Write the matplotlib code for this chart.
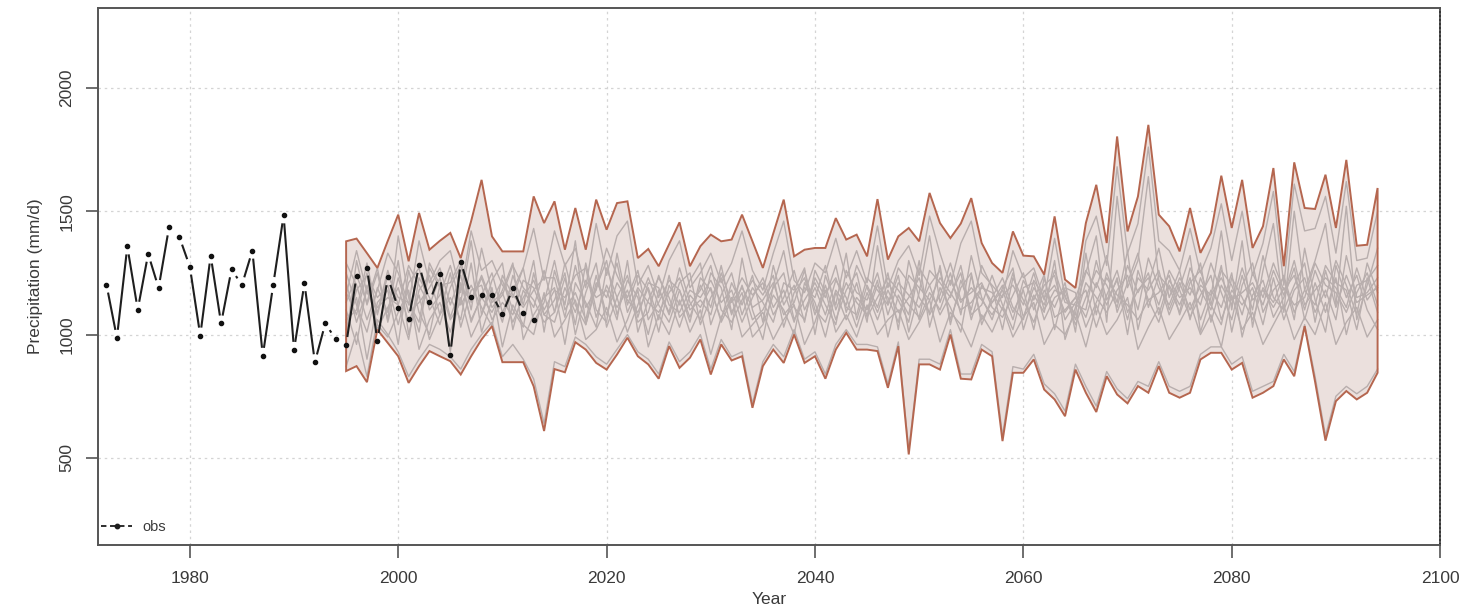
import numpy as np
import matplotlib
matplotlib.use("Agg")
import matplotlib.pyplot as plt
from matplotlib.lines import Line2D

plt.rcParams['font.family'] = ['Liberation Sans', 'DejaVu Sans']

# observed annual precipitation
obs_years = list(range(1972, 2014))
obs_vals = [1202, 987, 1357, 1101, 1327, 1189, 1434, 1395, 1275, 996,
            1320, 1045, 1264, 1201, 1340, 914, 1201, 1483, 938, 1208,
            888, 1045, 981, 958, 1239, 1271, 974, 1232, 1106, 1063,
            1282, 1132, 1244, 919, 1296, 1153, 1162, 1162, 1082, 1187,
            1088, 1057]

# ensemble envelope (max / min of members), 1995-2094
ens_years = list(range(1995, 2095))
ens_upper = [1378, 1389, 1330, 1270, 1380, 1486, 1297, 1493, 1344, 1380,
             1412, 1310, 1460, 1627, 1398, 1337, 1337, 1337, 1560, 1452,
             1540, 1344, 1513, 1344, 1547, 1425, 1533, 1540, 1310, 1347,
             1277, 1366, 1455, 1277, 1358, 1405, 1378, 1385, 1486, 1378,
             1270, 1410, 1547, 1317, 1344, 1351, 1351, 1472, 1385, 1405,
             1317, 1549, 1304, 1398, 1432, 1378, 1574, 1452, 1391, 1450,
             1553, 1371, 1290, 1250, 1418, 1320, 1317, 1243, 1479, 1223,
             1189, 1452, 1607, 1371, 1803, 1418, 1560, 1850, 1486, 1439,
             1337, 1513, 1331, 1412, 1644, 1432, 1627, 1351, 1439, 1675,
             1277, 1698, 1513, 1509, 1648, 1432, 1708, 1360, 1364, 1594]
ens_lower = [852, 872, 807, 1020, 966, 912, 804, 872, 933, 912,
             892, 838, 912, 980, 1034, 888, 888, 888, 790, 609,
             860, 847, 969, 939, 885, 858, 919, 987, 912, 879,
             821, 953, 865, 906, 980, 838, 960, 895, 912, 703,
             872, 939, 885, 1000, 885, 912, 821, 939, 1007, 939,
             939, 933, 784, 953, 514, 879, 879, 858, 1000, 821,
             818, 939, 912, 568, 845, 845, 899, 777, 737, 669,
             858, 764, 686, 831, 757, 721, 791, 764, 872, 764,
             744, 764, 899, 926, 926, 858, 885, 744, 764, 791,
             899, 831, 1034, 809, 570, 730, 771, 737, 764, 845]

# individual ensemble members (estimated)
member_1 = [1210, 1050, 1180, 1090, 1260, 1120, 980, 1230, 1150, 1040,
            1190, 1280, 1100, 1350, 1170, 1050, 1240, 1120, 1300, 1010,
            1260, 1120, 1380, 1040, 1190, 1300, 1080, 1220, 1150, 1000,
            1180, 1090, 1270, 1130, 1060, 1250, 1190, 1020, 1310, 1100,
            980, 1200, 1340, 1110, 1060, 1230, 1150, 1280, 1090, 1210,
            1050, 1360, 1120, 1240, 1010, 1170, 1400, 1130, 1250, 1080,
            1320, 1150, 1060, 1190, 1270, 1020, 1160, 1090, 1300, 980,
            1110, 1250, 1400, 1050, 1560, 1190, 1300, 1640, 1220, 1080,
            1190, 1320, 1010, 1150, 1420, 1100, 1380, 1030, 1260, 1450,
            1090, 1500, 1180, 1300, 1450, 1120, 1520, 1060, 1200, 1350]
member_2 = [980, 1300, 1120, 1250, 1060, 1400, 1150, 1010, 1270, 1190,
            1060, 1130, 1380, 1080, 1220, 1290, 1020, 1180, 1110, 1260,
            1090, 1230, 1040, 1290, 1100, 1050, 1330, 1120, 1240, 1180,
            1010, 1200, 1120, 1220, 1290, 1040, 1160, 1250, 1080, 1190,
            1130, 1050, 1210, 1180, 1270, 1000, 1240, 1120, 1330, 1060,
            1200, 1110, 1250, 1020, 1300, 1150, 1090, 1280, 1040, 1220,
            1100, 1280, 1190, 1020, 1230, 1140, 1050, 1180, 1110, 1210,
            1010, 1330, 1080, 1250, 1130, 1340, 1020, 1200, 1350, 1150,
            1260, 1060, 1230, 1120, 1280, 1010, 1200, 1290, 1090, 1180,
            1230, 1060, 1350, 1140, 1010, 1280, 1150, 1240, 1100, 1020]
member_3 = [1100, 960, 1200, 1040, 990, 1090, 1180, 940, 1060, 1130,
            1010, 1150, 990, 1080, 1190, 950, 1120, 1040, 1000, 1170,
            990, 1060, 1140, 980, 1020, 1110, 970, 1060, 1180, 950,
            1080, 1000, 1140, 1010, 1100, 920, 1070, 1150, 990, 1040,
            1090, 980, 1060, 1120, 960, 1050, 1180, 1010, 1080, 990,
            1120, 1000, 1060, 1100, 980, 1050, 1140, 970, 1090, 1040,
            950, 1080, 1010, 1110, 990, 1070, 1130, 960, 1040, 1000,
            1090, 950, 1120, 1000, 1060, 1150, 940, 1030, 1110, 980,
            1050, 1130, 1000, 1080, 950, 1160, 1020, 1090, 960, 1040,
            1120, 980, 1070, 1000, 1130, 960, 1050, 1110, 990, 1060]
member_4 = [1290, 1200, 1060, 1180, 1330, 1250, 1120, 1380, 1210, 1300,
            1340, 1170, 1420, 1260, 1300, 1200, 1150, 1270, 1430, 1220,
            1420, 1280, 1350, 1190, 1450, 1240, 1400, 1460, 1200, 1280,
            1150, 1300, 1380, 1190, 1250, 1330, 1210, 1290, 1420, 1260,
            1180, 1330, 1460, 1220, 1170, 1290, 1250, 1390, 1230, 1340,
            1210, 1440, 1190, 1300, 1360, 1240, 1480, 1330, 1200, 1370,
            1460, 1250, 1200, 1150, 1340, 1230, 1270, 1140, 1390, 1150,
            1080, 1380, 1480, 1280, 1680, 1330, 1450, 1760, 1380, 1340,
            1260, 1430, 1250, 1350, 1530, 1300, 1500, 1240, 1370, 1580,
            1200, 1610, 1420, 1430, 1560, 1330, 1620, 1300, 1310, 1500]
member_5 = [1050, 1150, 900, 1130, 1180, 960, 1260, 1090, 1000, 1200,
            930, 1210, 1060, 1150, 1090, 1180, 1290, 980, 1080, 1150,
            1190, 960, 1210, 1130, 1030, 1270, 1150, 1010, 1120, 1230,
            1120, 1050, 1180, 1070, 1200, 1110, 1280, 1090, 1170, 990,
            1040, 1160, 1100, 1000, 1210, 1130, 990, 1170, 1060, 1150,
            1100, 1220, 990, 1160, 1080, 1300, 1030, 1190, 1110, 1010,
            1240, 1060, 1130, 1200, 1090, 1180, 1020, 1230, 1070, 1100,
            1150, 1070, 1210, 1120, 1230, 1000, 1260, 1140, 1050, 1200,
            1120, 1230, 1060, 1180, 1110, 1250, 990, 1160, 1220, 1070,
            1150, 1270, 1060, 1210, 1090, 1230, 1000, 1170, 1250, 1120]
member_6 = [1170, 1080, 1250, 1010, 1110, 1190, 1050, 1160, 980, 1080,
            1250, 1030, 1180, 1200, 1060, 1130, 1080, 1220, 1190, 1080,
            1050, 1190, 1090, 1220, 1150, 1180, 1060, 1300, 1010, 1140,
            1230, 1150, 1030, 1160, 1110, 1190, 1050, 1140, 1230, 1160,
            1210, 1080, 1150, 1260, 1100, 1190, 1080, 1220, 1150, 1030,
            1170, 1060, 1180, 1090, 1150, 1230, 1080, 1160, 1290, 1140,
            1170, 1210, 1110, 1070, 1160, 1250, 1100, 1200, 1240, 1060,
            1130, 1180, 1030, 1160, 1260, 1090, 1180, 1230, 1120, 1260,
            1180, 1070, 1160, 1240, 1060, 1180, 1120, 1190, 1040, 1230,
            1060, 1180, 1230, 1090, 1180, 1060, 1320, 1150, 1170, 1230]
member_7 = [1130, 1240, 1130, 1300, 1050, 1230, 1090, 1130, 1190, 1270,
            1120, 1240, 1050, 1160, 1250, 1090, 1180, 1270, 1050, 1130,
            1300, 1100, 1170, 1060, 1240, 1080, 1210, 1140, 1090, 1190,
            1060, 1240, 1070, 1120, 1180, 1280, 1100, 1050, 1140, 1220,
            1160, 1240, 1030, 1170, 1230, 1080, 1200, 1060, 1180, 1250,
            1070, 1150, 1230, 1180, 1120, 1070, 1260, 1210, 1150, 1280,
            1080, 1120, 1240, 1120, 1020, 1190, 1210, 1060, 1150, 1180,
            1060, 1210, 1150, 1090, 1180, 1240, 1100, 1310, 1190, 1120,
            1230, 1160, 1290, 1050, 1200, 1120, 1270, 1140, 1180, 1110,
            1190, 1120, 1150, 1290, 1200, 1170, 1090, 1200, 1220, 1280]
member_8 = [870, 1010, 830, 1060, 1000, 930, 830, 900, 960, 940,
            910, 860, 940, 1000, 1050, 910, 960, 900, 820, 640,
            890, 870, 990, 960, 910, 880, 940, 1000, 930, 900,
            840, 970, 890, 930, 1000, 860, 980, 910, 930, 720,
            890, 960, 910, 1020, 900, 930, 840, 960, 1020, 960,
            960, 950, 800, 970, 530, 900, 900, 880, 1020, 840,
            840, 960, 930, 590, 870, 860, 920, 800, 760, 690,
            880, 790, 710, 850, 780, 740, 810, 790, 890, 790,
            770, 790, 920, 950, 950, 880, 910, 770, 790, 810,
            920, 850, 1040, 830, 590, 750, 790, 760, 790, 860]
member_9 = [1250, 1120, 1010, 1190, 1090, 1300, 1000, 1180, 1240, 1080,
            1150, 1060, 1290, 1010, 1140, 1220, 1100, 1030, 1250, 1080,
            1140, 1250, 1000, 1170, 1290, 1030, 1150, 1240, 1070, 1210,
            1190, 1080, 1210, 1250, 1040, 1150, 1230, 1080, 1200, 1060,
            1100, 1190, 1250, 1060, 1140, 1210, 1120, 1040, 1260, 1170,
            1140, 1250, 1080, 1210, 1160, 1110, 1200, 1260, 1060, 1190,
            1250, 1040, 1150, 1230, 1110, 1060, 1220, 1150, 1200, 1090,
            1150, 1260, 1190, 1320, 1090, 1210, 1330, 1110, 1240, 1190,
            1090, 1270, 1180, 1100, 1260, 1200, 1080, 1250, 1150, 1290,
            1180, 1240, 1100, 1260, 1150, 1300, 1200, 1080, 1290, 1170]
member_10 = [1020, 1180, 1240, 1150, 1200, 1040, 1210, 1270, 1100, 1160,
             1280, 1120, 1200, 1110, 1000, 1240, 1160, 1110, 1180, 1230,
             1230, 1070, 1280, 1110, 1180, 1350, 1240, 1150, 1260, 1060,
             1130, 1220, 1180, 1050, 1230, 1180, 1060, 1210, 1120, 1240,
             1050, 1280, 1120, 1200, 1050, 1260, 1170, 1230, 1110, 1080,
             1230, 1180, 1120, 1270, 1210, 1060, 1170, 1100, 1220, 1130,
             1190, 1140, 1080, 1160, 1200, 1120, 1250, 1100, 1180, 1160,
             1040, 1150, 1260, 1200, 1110, 1280, 1170, 1250, 1080, 1220,
             1150, 1190, 1120, 1290, 1170, 1060, 1240, 1100, 1320, 1150,
             1100, 1200, 1290, 1050, 1260, 1110, 1240, 1130, 1160, 1190]
member_11 = [1160, 1340, 1170, 1110, 1150, 1120, 1280, 1200, 1120, 1230,
             1070, 1190, 1140, 1240, 1130, 1170, 1050, 1150, 1220, 1100,
             1180, 1150, 1240, 1270, 1070, 1200, 1110, 1180, 1050, 1090,
             1240, 1120, 1090, 1180, 1150, 1220, 1130, 1180, 1050, 1150,
             1230, 1110, 1180, 1050, 1190, 1150, 1280, 1100, 1210, 1130,
             1080, 1200, 1150, 1050, 1240, 1190, 1140, 1230, 1170, 1100,
             1130, 1190, 1170, 1100, 1250, 1070, 1190, 1120, 1260, 1130,
             1120, 1100, 1300, 1140, 1220, 1060, 1230, 1180, 1260, 1100,
             1210, 1100, 1200, 1160, 1230, 1140, 1170, 1210, 1120, 1260,
             1160, 1300, 1120, 1180, 1230, 1190, 1110, 1270, 1140, 1200]
member_12 = [1060, 1100, 1290, 1080, 1240, 1150, 1130, 1050, 1290, 1200,
             1210, 1300, 1130, 1230, 1110, 1160, 1280, 1190, 1140, 1050,
             1090, 1290, 1120, 1040, 1210, 1150, 1290, 1090, 1190, 1130,
             1090, 1170, 1230, 1100, 1140, 1080, 1250, 1130, 1190, 1110,
             1140, 1210, 1080, 1130, 1260, 1100, 1050, 1180, 1120, 1280,
             1190, 1090, 1210, 1140, 1050, 1270, 1200, 1080, 1160, 1250,
             1060, 1200, 1130, 1180, 1060, 1220, 1140, 1250, 1020, 1190,
             1170, 1030, 1130, 1230, 1160, 1120, 1060, 1140, 1170, 1240,
             1080, 1210, 1260, 1120, 1040, 1230, 1150, 1060, 1190, 1130,
             1240, 1090, 1180, 1120, 1280, 1210, 1180, 1020, 1230, 1090]
members = [member_1, member_2, member_3, member_4, member_5, member_6,
           member_7, member_8, member_9, member_10, member_11, member_12]

x_ticks = [1980, 2000, 2020, 2040, 2060, 2080, 2100]
y_ticks = [500, 1000, 1500, 2000]

fill_col = '#ebe0dd'
edge_col = '#b5664f'
member_col = '#b8aead'
axis_col = '#555555'
text_col = '#3a3a3a'

fig = plt.figure(figsize=(14.65, 6.1), dpi=100)
ax = fig.add_axes([0.067, 0.107, 0.916, 0.880])
ax.set_xlim(1971.2, 2099.9)
ax.set_ylim(148, 2324)

# grid
for xt in x_ticks:
    ax.axvline(xt, color='#d4d4d4', lw=0.9, ls=(0, (2, 3)), zorder=0)
for yt in y_ticks:
    ax.axhline(yt, color='#d4d4d4', lw=0.9, ls=(0, (2, 3)), zorder=0)

yrs = np.array(ens_years)
up = np.array(ens_upper)
lo = np.array(ens_lower)
poly_x = np.concatenate([yrs, yrs[::-1]])
poly_y = np.concatenate([up, lo[::-1]])
ax.fill(poly_x, poly_y, color=fill_col, lw=0, zorder=1)
for m in members:
    ax.plot(yrs, np.clip(m, lo, up), color=member_col, lw=1.0, zorder=2)
ax.fill(poly_x, poly_y, fill=False, edgecolor=edge_col, lw=1.4, zorder=3)

# observed series drawn like R type="b": segments with gaps around points
gap = 8.0
disp = ax.transData.transform(np.column_stack([obs_years, obs_vals]))
inv = ax.transData.inverted()
for i in range(len(disp) - 1):
    p0, p1 = disp[i], disp[i + 1]
    d = p1 - p0
    length = np.hypot(*d)
    if length <= 2 * gap:
        continue
    u = d / length
    seg = inv.transform(np.array([p0 + gap * u, p1 - gap * u]))
    ax.plot(seg[:, 0], seg[:, 1], color='#1e1e1e', lw=1.5, zorder=4,
            solid_capstyle='butt')
ax.plot(obs_years, obs_vals, ls='none', marker='o', ms=3.0,
        color='#111111', zorder=5)

# axes styling
ax.set_xticks(x_ticks)
ax.set_yticks(y_ticks)
ax.tick_params(axis='both', direction='out', length=9, width=1.2,
               color=axis_col, labelcolor=text_col, labelsize=12.5)
ax.tick_params(axis='x', pad=10)
ax.tick_params(axis='y', pad=8)
for lab in ax.get_yticklabels():
    lab.set_rotation(90)
    lab.set_va('center')
for side in ['left', 'bottom', 'top']:
    ax.spines[side].set_color(axis_col)
    ax.spines[side].set_linewidth(1.4)
ax.spines['right'].set_color('#111111')
ax.spines['right'].set_linestyle((0, (1.2, 1.2)))
ax.spines['right'].set_linewidth(1.2)

ax.set_xlabel('Year', fontsize=12.5, color=text_col, labelpad=4)
ax.set_ylabel('Precipitation (mm/d)', fontsize=12.5, color=text_col,
              labelpad=12)

handle = Line2D([], [], color='#1e1e1e', ls=(0, (3, 2)), lw=1.3,
                marker='o', ms=3.2)
leg = ax.legend([handle], ['obs'], loc='lower left', frameon=False,
                fontsize=10.5, handlelength=2.1, handletextpad=0.7,
                borderaxespad=0.0, borderpad=0.3,
                bbox_to_anchor=(-0.001, 0.012))
for t in leg.get_texts():
    t.set_color(text_col)

fig.savefig('out.png', dpi=100)
